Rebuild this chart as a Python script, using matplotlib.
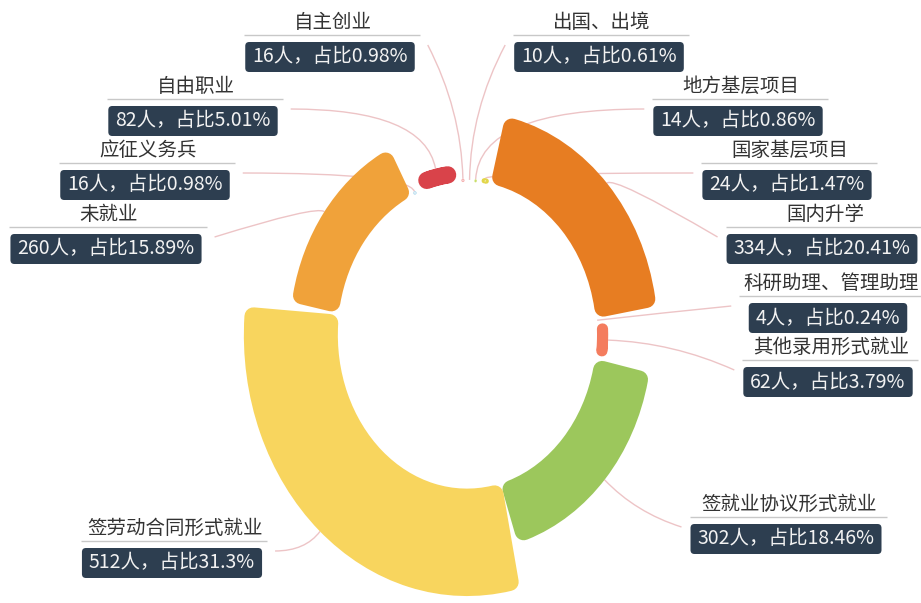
import numpy as np
import matplotlib
matplotlib.use("Agg")
import matplotlib.pyplot as plt
from matplotlib.patches import Wedge, FancyBboxPatch, PathPatch
from matplotlib.path import Path
from matplotlib.transforms import Affine2D

plt.rcParams['font.family'] = ['Noto Sans CJK SC', 'DejaVu Sans']

# ---------------- data ----------------
categories = ['出国、出境', '地方基层项目', '国家基层项目', '国内升学',
              '科研助理、管理助理', '其他录用形式就业', '签就业协议形式就业',
              '签劳动合同形式就业', '未就业', '应征义务兵', '自由职业', '自主创业']
counts = [10, 14, 24, 334, 4, 62, 302, 512, 260, 16, 82, 16]
percent_labels = ['0.61', '0.86', '1.47', '20.41', '0.24', '3.79', '18.46',
                  '31.3', '15.89', '0.98', '5.01', '0.98']
colors = ['#F6E27A', '#C9DE6A', '#E2D64A', '#E77D22', '#F0A0A0', '#F47C5E',
          '#9CC75C', '#F8D55E', '#F0A23A', '#A9D6EC', '#D9434A', '#F5B0B0']

# ---------------- layout (pixels) ----------------
W, H = 921, 603
CX, CY = 467, 335          # centre of the ring
RX, RY = 130, 153          # inner radius (x / y, the picture is stretched)
R_OUT = 1.71               # outer radius of the largest slice, in inner radii
label_cx = [601, 740, 789, 824, 830, 830, 788, 174, 108, 147, 195, 332]
label_uy = [35, 99, 163, 227, 296, 360, 517, 541, 227, 163, 99, 35]
label_side = ['R'] * 7 + ['L'] * 5
FS = 14
GAP = 2.5
DMAX = 9.0
LINE_COLOR = '#EDC4C6'
BOX_COLOR = '#2D3E50'

fig = plt.figure(figsize=(W / 100, H / 100), dpi=100)
fig.patch.set_facecolor('white')
ax = fig.add_axes([0, 0, 1, 1])
ax.set_xlim(-CX / RX, (W - CX) / RX)
ax.set_ylim(-(H - CY) / RY, CY / RY)
ax.axis('off')

pix = Affine2D().scale(1.0 / W, -1.0 / H).translate(0, 1) + fig.transFigure

total = sum(counts)
vmax = max(counts)
spans = [360.0 * c / total for c in counts]
starts = np.concatenate([[0], np.cumsum(spans)[:-1]])


def s_r(th):
    return np.hypot(RX * np.sin(th), RY * np.cos(th))


def s_t(th):
    return np.hypot(RX * np.cos(th), RY * np.sin(th))


outer = []
mids = []
for i, c in enumerate(counts):
    th0 = np.radians(starts[i])
    th1 = np.radians(starts[i] + spans[i])
    thm = 0.5 * (th0 + th1)
    r_o = 1 + (R_OUT - 1) * c / vmax
    outer.append(r_o)
    mids.append(thm)
    thick = (r_o - 1) * s_r(thm)
    rm = 0.5 * (1 + r_o)
    arc = rm * (th1 - th0) * s_t(thm)
    avail = arc - 2 * GAP
    if avail < 1.0 or thick < 1.0:
        continue
    d = max(0.3, min(DMAX, thick / 2 - 0.2, avail / 2 - 0.2))
    ri = 1 + d / s_r(thm)
    ro = r_o - d / s_r(thm)
    if ro - ri < 1e-3:
        ro = ri + 1e-3
    dth = (d + GAP) / (rm * s_t(thm))
    a0, a1 = th0 + dth, th1 - dth
    if a1 - a0 < 1e-3:
        a0, a1 = thm - 5e-4, thm + 5e-4
    w = Wedge((0, 0), ro, 90 - np.degrees(a1), 90 - np.degrees(a0),
              width=ro - ri, facecolor=colors[i], edgecolor=colors[i],
              linewidth=2 * d * 72 / 100, joinstyle='round', zorder=2)
    ax.add_patch(w)

renderer = fig.canvas.get_renderer()
inv = pix.inverted()
for i in range(len(categories)):
    cx = label_cx[i]
    uy = label_uy[i]
    tn = ax.text(cx + 1, uy - 13, categories[i], transform=pix, ha='center',
                 va='center', fontsize=FS, color='#333333', zorder=6)
    tb = ax.text(cx - 2, uy + 22, f'{counts[i]}人，占比{percent_labels[i]}%',
                 transform=pix, ha='center', va='center', fontsize=FS,
                 color='#F2F2F2', zorder=6)
    wn = tn.get_window_extent(renderer).width * 100 / fig.dpi
    wb = tb.get_window_extent(renderer).width * 100 / fig.dpi
    bw = wb + 14
    ax.add_patch(FancyBboxPatch((cx - 2 - bw / 2, uy + 7), bw, 30,
                                boxstyle='round,pad=0,rounding_size=4',
                                transform=pix, facecolor=BOX_COLOR,
                                edgecolor='none', zorder=5))
    uw = max(wn, bw) + 6
    ax.plot([cx - uw / 2, cx + uw / 2], [uy, uy], transform=pix,
            color='#C8C8C8', lw=1, zorder=5, solid_capstyle='butt')

    # label line
    thm = mids[i]
    r_o = outer[i]
    pd = ax.transData.transform((r_o * np.sin(thm), r_o * np.cos(thm)))
    p0 = inv.transform(pd)
    if label_side[i] == 'L':
        p2 = np.array([cx + uw / 2 + 8, uy + 10])
    else:
        p2 = np.array([cx - uw / 2 - 8, uy + 10])
    dvec = np.array([RX * np.sin(thm), -RY * np.cos(thm)])
    dvec = dvec / np.hypot(*dvec)
    dist = np.hypot(*(p2 - p0))
    t = (p2[1] - p0[1]) / dvec[1] if abs(dvec[1]) > 1e-6 else -1
    L = min(t, 0.5 * dist) if t > 0 else 10
    ctrl = p0 + dvec * L
    path = Path([p0, ctrl, p2], [Path.MOVETO, Path.CURVE3, Path.CURVE3])
    ax.add_patch(PathPatch(path, facecolor='none', edgecolor=LINE_COLOR,
                           lw=1, transform=pix, zorder=1))

fig.savefig('out.png', dpi=100, facecolor='white')
